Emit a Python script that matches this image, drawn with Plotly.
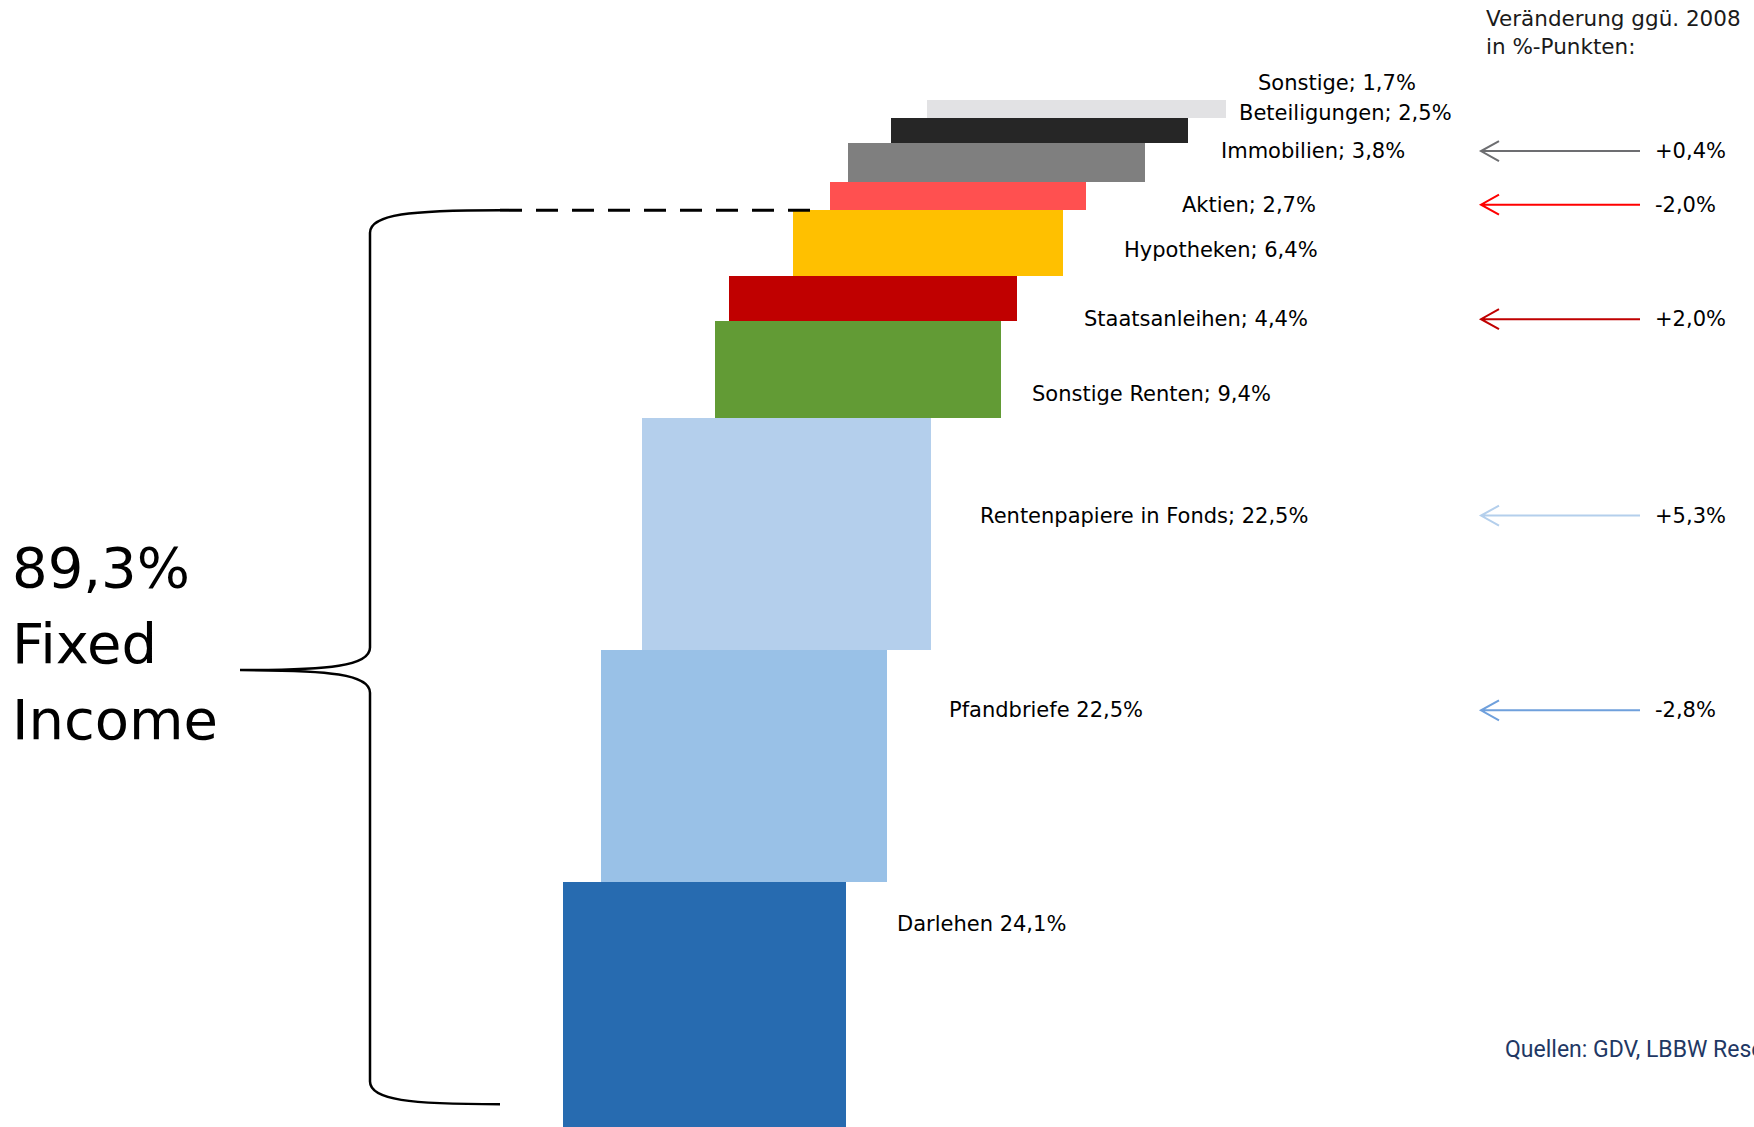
import plotly.graph_objects as go

# ---- data -----------------------------------------------------------------
categories = ["Sonstige", "Beteiligungen", "Immobilien", "Aktien", "Hypotheken",
              "Staatsanleihen", "Sonstige Renten", "Rentenpapiere in Fonds",
              "Pfandbriefe", "Darlehen"]
shares = [1.7, 2.5, 3.8, 2.7, 6.4, 4.4, 9.4, 22.5, 22.5, 24.1]          # % of portfolio
change_vs_2008 = [None, None, 0.4, -2.0, None, 2.0, None, 5.3, -2.8, None]  # %-points
fixed_income = ["Hypotheken", "Staatsanleihen", "Sonstige Renten",
                "Rentenpapiere in Fonds", "Pfandbriefe", "Darlehen"]

# ---- styling / layout ------------------------------------------------------
colors = ["#e2e2e4", "#262626", "#7f7f7f", "#ff5050", "#ffc000",
          "#c00000", "#629b35", "#b4cfec", "#99c1e7", "#276bb0"]
arrow_colors = [None, None, "#6d6e71", "#ff0000", None,
                "#c00000", None, "#b4cfec", "#6fa0dc", None]
label_sep = ["; ", "; ", "; ", "; ", "; ", "; ", "; ", "; ", " ", " "]
bar_left = [927, 891, 848, 830, 793, 729, 715, 642, 601, 563]
bar_len = [299, 297, 297, 256, 270, 288, 286, 289, 286, 283]
label_x = [1256, 1237, 1219, 1180, 1122, 1082, 1030, 978, 947, 895]
label_frac = [-0.95, -0.17, 0.2, 0.8, 0.6, 0.95, 0.75, 0.42, 0.26, 0.17]

W, H = 1754, 1127
TOP_PX, PX_PER_PCT = 100, 10.3
FONT = "DejaVu Sans"
ARROW_TIP, ARROW_TAIL = 1481, 1640


def de(v, sign=False):
    s = f"{v:+.1f}" if sign else f"{v:.1f}"
    return s.replace(".", ",") + "%"


def paper_y(px):
    return 1 - px / H


# stacked vertical extent of each bar, in cumulative-share units
starts = []
acc = 0.0
for s in shares:
    starts.append(acc)
    acc += s
centers = [st + s / 2 for st, s in zip(starts, shares)]

fig = go.Figure()
fig.add_trace(go.Bar(
    orientation="h",
    y=centers, x=bar_len, base=bar_left, width=shares,
    marker=dict(color=colors, line=dict(width=0)),
    hoverinfo="skip", showlegend=False,
))

annotations = []
shapes = []
for i, cat in enumerate(categories):
    ly = starts[i] + label_frac[i] * shares[i]
    annotations.append(dict(
        x=label_x[i], y=ly, xref="x", yref="y", xanchor="left", yanchor="middle",
        text=f"{cat}{label_sep[i]}{de(shares[i])}", showarrow=False,
        font=dict(family=FONT, size=21, color="#000000"),
    ))
    if change_vs_2008[i] is not None:
        dy = 10 / PX_PER_PCT  # half-height of the open arrowhead
        shapes.append(dict(
            type="path", xref="x", yref="y",
            path=(f"M {ARROW_TAIL},{ly} L {ARROW_TIP},{ly} "
                  f"M {ARROW_TIP + 18},{ly - dy} L {ARROW_TIP},{ly} L {ARROW_TIP + 18},{ly + dy}"),
            line=dict(color=arrow_colors[i], width=2),
        ))
        annotations.append(dict(
            x=1653, y=ly, xref="x", yref="y", xanchor="left", yanchor="middle",
            text=de(change_vs_2008[i], sign=True), showarrow=False,
            font=dict(family=FONT, size=21, color="#000000"),
        ))

# header of the change column
for txt, py in [("Veränderung ggü. 2008", 18), ("in %-Punkten:", 47)]:
    annotations.append(dict(
        x=1484, y=paper_y(py), xref="x", yref="paper", xanchor="left", yanchor="middle",
        text=txt, showarrow=False,
        font=dict(family=FONT, size=21.5, color="#1a1a1a"),
    ))

# fixed income total
fi_idx = [categories.index(c) for c in fixed_income]
fi_total = sum(shares[i] for i in fi_idx)
fi_top = starts[fi_idx[0]]
fi_bottom = starts[fi_idx[-1]] + shares[fi_idx[-1]]
fi_mid = (fi_top + fi_bottom) / 2
for txt, py in [(de(fi_total), 567), ("Fixed", 643), ("Income", 719)]:
    annotations.append(dict(
        x=10, y=paper_y(py), xref="x", yref="paper", xanchor="left", yanchor="middle",
        text=txt, showarrow=False, font=dict(family=FONT, size=56, color="#000000"),
    ))

# source note (runs off the right edge)
annotations.append(dict(
    x=1503, y=paper_y(1049), xref="x", yref="paper", xanchor="left", yanchor="middle",
    text="Quellen: GDV, LBBW Research", showarrow=False,
    font=dict(family="Roboto", size=23, color="#1f3864"),
))

# curly brace spanning the fixed-income block (lower arm ends just inside the page)
c = 2.2  # curve height in share units
brace_end = fi_bottom - 2.5
brace = (
    f"M 500,{fi_top} C 410,{fi_top} 370,{fi_top + 0.4} 370,{fi_top + c} "
    f"L 370,{fi_mid - c} C 370,{fi_mid - 0.4} 330,{fi_mid} 240,{fi_mid} "
    f"C 330,{fi_mid} 370,{fi_mid + 0.4} 370,{fi_mid + c} "
    f"L 370,{brace_end - c} C 370,{brace_end - 0.4} 410,{brace_end} 500,{brace_end}"
)
shapes += [
    dict(type="path", path=brace, xref="x", yref="y",
         line=dict(color="#000000", width=2.5)),
    dict(type="line", x0=500, x1=bar_left[fi_idx[0]] + 20, y0=fi_top, y1=fi_top,
         xref="x", yref="y", line=dict(color="#000000", width=3, dash="22px,14px")),
]

fig.update_layout(
    width=W, height=H,
    margin=dict(l=0, r=0, t=0, b=0),
    paper_bgcolor="#ffffff", plot_bgcolor="#ffffff",
    xaxis=dict(range=[0, W], visible=False, fixedrange=True),
    yaxis=dict(range=[(H - TOP_PX) / PX_PER_PCT, -TOP_PX / PX_PER_PCT],
               visible=False, fixedrange=True),
    annotations=annotations,
    shapes=shapes,
    bargap=0,
)

fig.write_html("out.html")
